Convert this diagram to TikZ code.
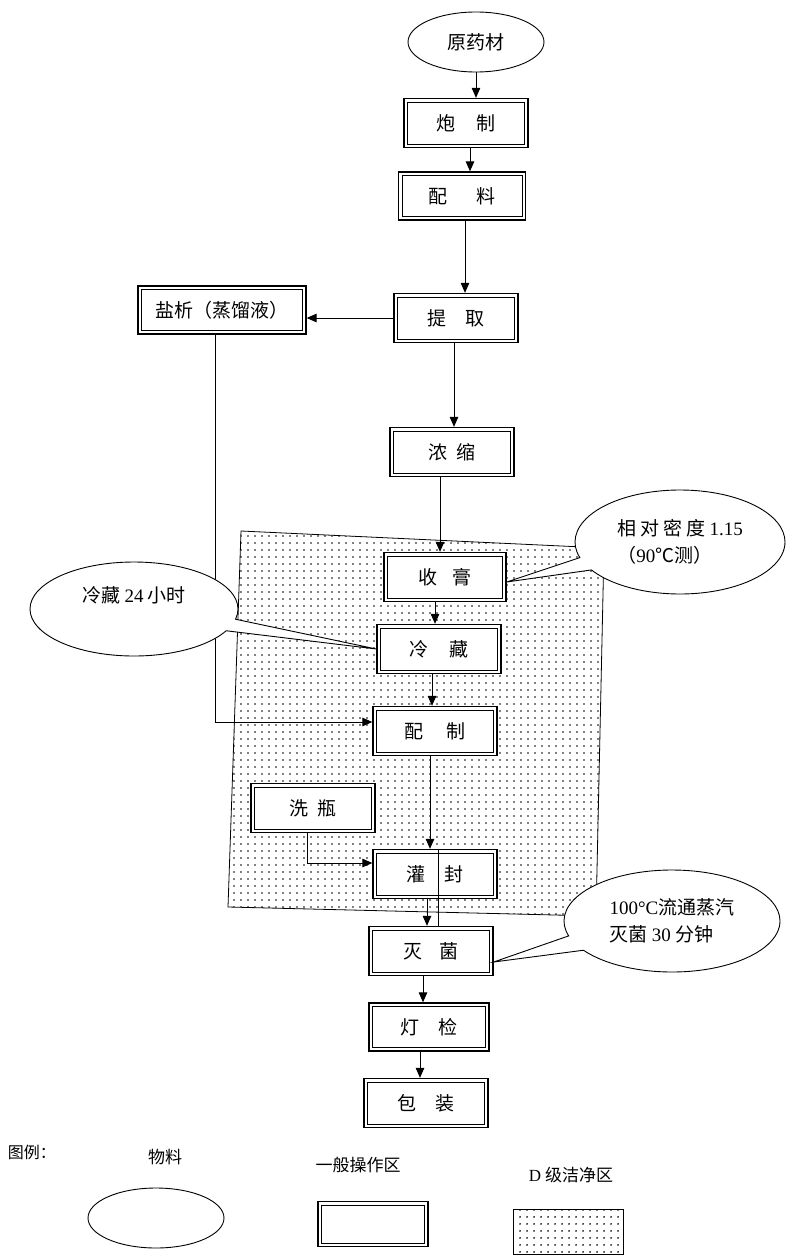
\documentclass[tikz,border=0pt]{standalone}
\usepackage{fontspec}
\setmainfont{Noto Sans CJK SC}
\newfontfamily\lat{Liberation Serif}
\usetikzlibrary{arrows.meta,shapes.geometric,shapes.callouts,patterns.meta}
\begin{document}
\begin{tikzpicture}[x=1pt,y=-1pt,
  every node/.style={font=\fontsize{19}{27}\selectfont, inner sep=0pt},
  opbox/.style={draw, line width=1.3pt, fill=white, minimum width=124pt, minimum height=49pt,
    path picture={\draw[line width=0.7pt]
      ([shift={(3.4pt,3.4pt)}]path picture bounding box.south west) rectangle
      ([shift={(-3.4pt,-3.4pt)}]path picture bounding box.north east);}},
  matell/.style={ellipse, draw, line width=0.9pt, fill=white, minimum width=136pt, minimum height=60pt},
  note/.style={ellipse callout, draw, line width=0.9pt, fill=white, align=left},
  arr/.style={line width=1pt, -{Triangle[length=10pt,width=8.5pt]}},
  ln/.style={line width=0.9pt},
  cleanzone/.style={pattern={Dots[distance=6.5pt,radius=1pt]}, pattern color=black, draw, line width=0.8pt},
  legtext/.style={font=\fontsize{17}{20}\selectfont},
]
\useasboundingbox (0,0) rectangle (795,1258);
\fill[white] (0,0) rectangle (795,1258);

% D-grade clean zone
\path[cleanzone] (241,531) -- (604,548) -- (596,916) -- (228,907) -- cycle;

% process nodes
\node[matell] (yuan) at (476,42) {原药材};
\node[opbox] (paozhi) at (466,123) {炮\hspace{22pt}制};
\node[opbox, minimum width=127pt, minimum height=48pt] (peiliao) at (462,196) {配\hspace{30pt}料};
\node[opbox] (tiqu) at (456,318) {提\hspace{20pt}取};
\node[opbox, minimum width=168pt, minimum height=48pt] (yanxi) at (222,310) {盐析（蒸馏液）};
\node[opbox] (nongsuo) at (452,452) {浓\hspace{10pt}缩};
\node[opbox, minimum width=122pt] (shougao) at (445,577) {收\hspace{15pt}膏};
\node[opbox] (lengcang) at (439,649) {冷\hspace{22pt}藏};
\node[opbox] (peizhi) at (435,731) {配\hspace{23pt}制};
\node[opbox] (xiping) at (313,808) {洗\hspace{10pt}瓶};
\node[opbox] (guanfeng) at (435,874) {灌\hspace{20pt}封};
\node[opbox] (miejun) at (431,951) {灭\hspace{18pt}菌};
\node[opbox, minimum width=120pt, minimum height=48pt] (dengjian) at (429,1027) {灯\hspace{20pt}检};
\node[opbox] (baozhuang) at (426,1103) {包\hspace{20pt}装};

% connectors
\draw[arr] (yuan.south) -- (yuan.south |- paozhi.north);
\draw[arr] ([xshift=4pt]paozhi.south) -- ([xshift=4pt]paozhi.south |- peiliao.north);
\draw[arr] ([xshift=3pt]peiliao.south) -- ([xshift=3pt]peiliao.south |- tiqu.north);
\draw[arr] (tiqu.west) -- (tiqu.west -| yanxi.east);
\draw[arr] ([xshift=-2pt]tiqu.south) -- ([xshift=-2pt]tiqu.south |- nongsuo.north);
\draw[arr] ([xshift=-12pt]nongsuo.south) -- ([xshift=-12pt]nongsuo.south |- shougao.north);
\draw[arr] ([xshift=-10pt]shougao.south) -- ([xshift=-10pt]shougao.south |- lengcang.north);
\draw[arr] ([xshift=-7pt]lengcang.south) -- ([xshift=-7pt]lengcang.south |- peizhi.north);
\draw[arr] ([xshift=-5pt]peizhi.south) -- ([xshift=-5pt]peizhi.south |- guanfeng.north);
\draw[arr] ([xshift=-8pt]guanfeng.south) -- ([xshift=-8pt]guanfeng.south |- miejun.north);
\draw[ln] ([xshift=3pt]guanfeng.north) -- ([xshift=3pt]guanfeng.north |- miejun.north);
\draw[arr] ([xshift=-8pt]miejun.south) -- ([xshift=-8pt]miejun.south |- dengjian.north);
\draw[arr] ([xshift=-9pt]dengjian.south) -- ([xshift=-9pt]dengjian.south |- baozhuang.north);
\draw[arr] ([xshift=-7pt]yanxi.south) |- ([yshift=9pt]peizhi.west);
\draw[arr] ([xshift=-6pt]xiping.south) |- ([yshift=11pt]guanfeng.west);

% callouts
\node[note, minimum width=210pt, minimum height=104pt,
  callout absolute pointer={([yshift=-5pt]shougao.east)}, callout pointer arc=15]
  (c1) at (680,542) {相\hspace{4pt}对\hspace{4pt}密\hspace{4pt}度 {\lat 1.15}\\（{\lat 90}℃测）};
\node[note, minimum width=208pt, minimum height=94pt,
  callout absolute pointer={(lengcang.west)}, callout pointer arc=15]
  (c2) at (134,609) {\raisebox{28pt}{冷藏 {\lat 24} 小时}};
\node[note, minimum width=216pt, minimum height=102pt,
  callout absolute pointer={([yshift=-11pt]miejun.east)}, callout pointer arc=18]
  (c3) at (672,921) {{\lat 100°C}流通蒸汽\\灭菌 {\lat 30} 分钟};

% legend
\node[font=\fontsize{16}{20}\selectfont] (legtitle) at (32,1152) {图例：};
\node[legtext] (legmat) at (165,1157) {物料};
\node[legtext] (legop) at (358,1165) {一般操作区};
\node[legtext] (legcl) at (571,1175) {{\lat D} 级洁净区};
\node[matell] (legell) at (156,1218) {};
\node[opbox, minimum width=110pt, minimum height=45pt] (legbox) at (373,1224) {};
\node[cleanzone, minimum width=110pt, minimum height=45pt] (legdot) at (568,1232) {};
\end{tikzpicture}
\end{document}
